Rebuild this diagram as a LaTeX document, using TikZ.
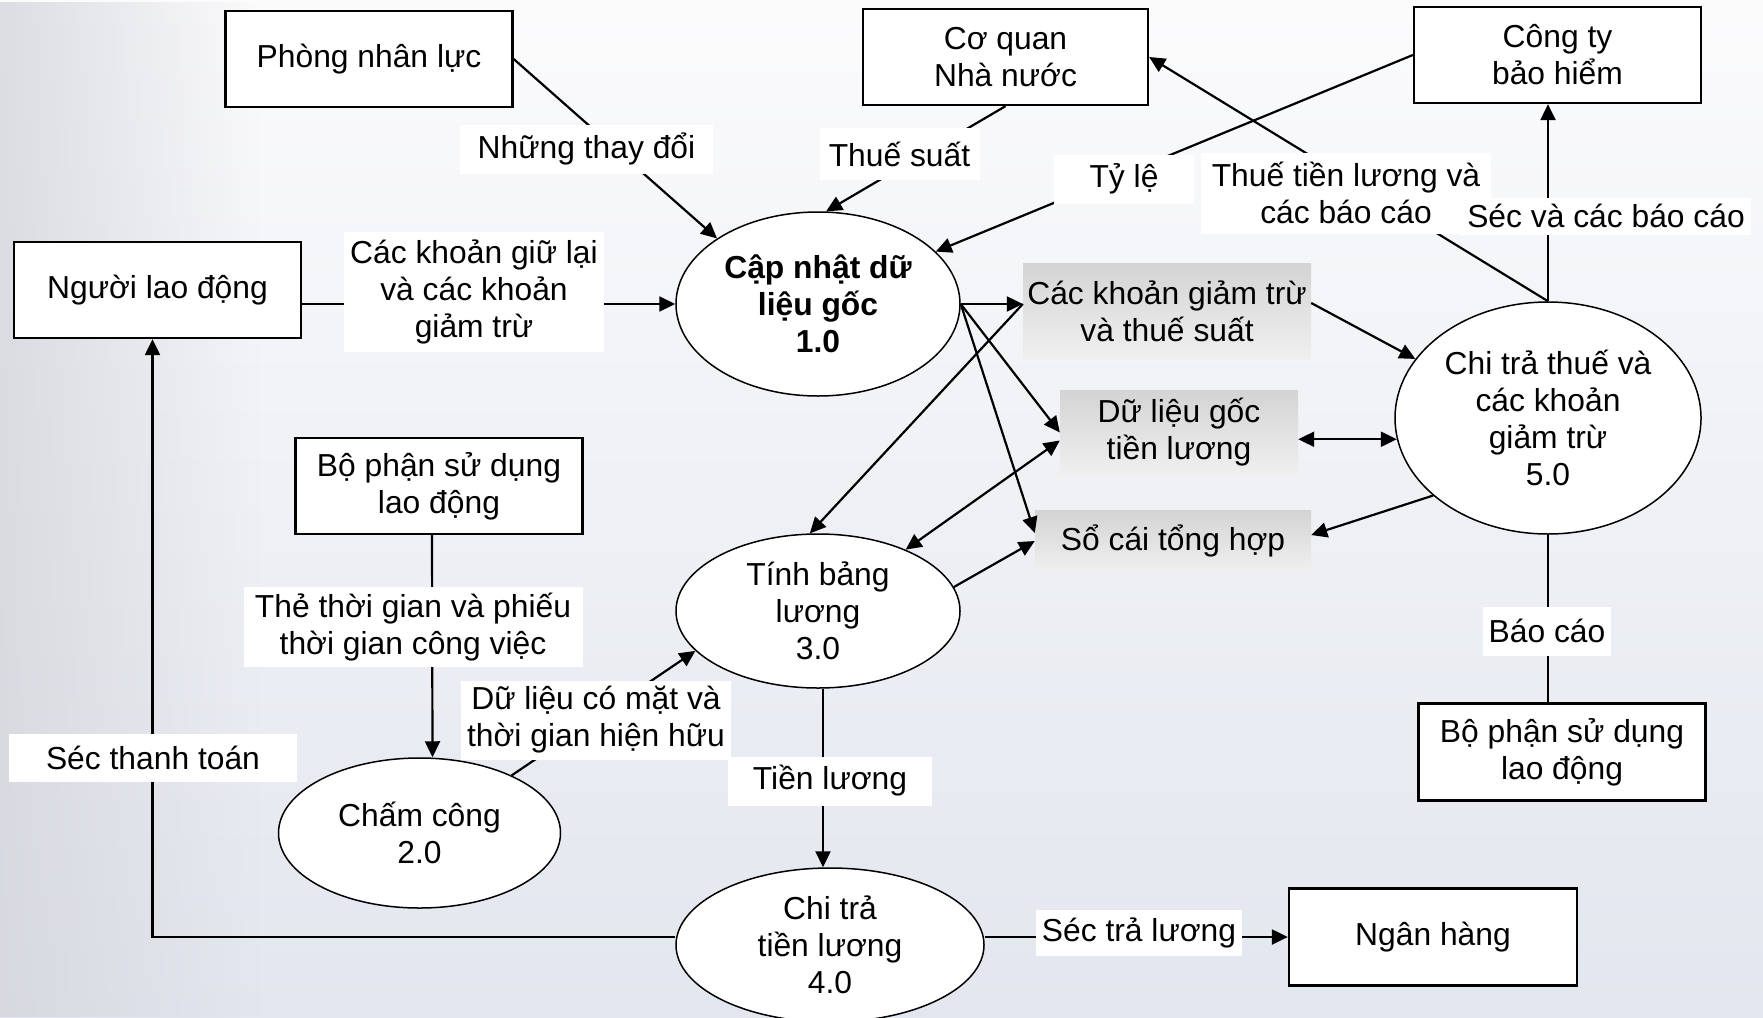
\documentclass[tikz,border=0pt]{standalone}
\usepackage{fontspec}
\setmainfont{Liberation Sans}
\usetikzlibrary{shapes.geometric,arrows.meta,fadings}
\definecolor{bgtop}{HTML}{FBFBFC}
\definecolor{bgbot}{HTML}{E2E6EE}
\definecolor{bgleft}{HTML}{D4D6DC}
\tikzfading[name=fadeR, left color=transparent!0, right color=transparent!100]
\tikzset{
  base/.style={font=\fontsize{31.8}{37}\selectfont, align=center},
  ent/.style={base, draw, line width=2.3pt, fill=white, minimum width=287pt, minimum height=96pt, inner sep=0pt},
  proc/.style={base, ellipse, draw, line width=1.5pt, fill=white, inner sep=0pt},
  store/.style={base, top color=black!17, bottom color=black!6, inner sep=0pt},
  lbl/.style={base, fill=white, inner xsep=6pt, inner ysep=2pt},
  flow/.style={line width=2.2pt, -{Triangle[length=16pt,width=15pt]}},
  bflow/.style={line width=2.2pt, {Triangle[length=16pt,width=15pt]}-{Triangle[length=16pt,width=15pt]}},
  plainline/.style={line width=2.2pt},
}
\begin{document}
\begin{tikzpicture}[x=1pt,y=-1pt]
\useasboundingbox (0,0) rectangle (1763,1017);
\clip (0,0) rectangle (1763,1017);
% background
\fill[top color=bgtop, bottom color=bgbot] (0,0) rectangle (1763,1017);
\fill[bgleft, opacity=0.8, path fading=fadeR] (0,0) rectangle (260,1017);

% external entities
\node[ent] (phong) at (369,59) {Phòng nhân lực};
\node[ent, minimum width=285pt] (coquan) at (1005.5,57) {Cơ quan\\Nhà nước};
\node[ent] (congty) at (1557.5,55) {Công ty\\bảo hiểm};
\node[ent] (nld) at (157.5,290) {Người lao động};
\node[ent] (bpl) at (439,486) {Bộ phận sử dụng\\lao động};
\node[ent, minimum height=97pt] (bpr) at (1562,752) {Bộ phận sử dụng\\lao động};
\node[ent, minimum width=288pt, minimum height=97pt] (nh) at (1433,937) {Ngân hàng};

% processes
\node[proc, font=\fontsize{31.8}{37}\selectfont\bfseries, minimum width=284pt, minimum height=184pt] (e1) at (818,304) {Cập nhật dữ\\liệu gốc\\1.0};
\node[proc, minimum width=284pt, minimum height=154pt] (e3) at (818,611) {Tính bảng\\lương\\3.0};
\node[proc, minimum width=282pt, minimum height=150pt] (e2) at (419.5,833) {Chấm công\\2.0};
\node[proc, minimum width=308pt, minimum height=154pt] (e4) at (830,945) {Chi trả\\tiền lương\\4.0};
\node[proc, minimum width=306pt, minimum height=232pt] (e5) at (1548,418) {Chi trả thuế và\\các khoản\\giảm trừ\\5.0};

% data stores
\node[store, minimum width=288pt, minimum height=96pt] (s1) at (1167,311) {Các khoản giảm trừ\\và thuế suất};
\node[store, minimum width=238pt, minimum height=85pt] (s2) at (1179,432.5) {Dữ liệu gốc\\tiền lương};
\node[store, minimum width=276pt, minimum height=61pt] (s3) at (1173,541) {Sổ cái tổng hợp};

% connectors
\draw[flow] (phong.east) -- (e1.147);
\draw[flow] (coquan.south) -- (e1.85);
\draw[flow] (congty.west) -- (e1.24);
\draw[flow] (e5.north) -- (coquan.east);
\draw[flow] (e5.north) -- (e5.north |- congty.south);
\draw[flow] (nld.east |- e1.west) -- (e1.west);
\draw[flow] (e1.east) -- (e1.east -| s1.west);
\draw[flow] (e1.east) -- (s2.west);
\draw[flow] (e1.east) -- ([yshift=8pt]s3.west);
\draw[flow] (e1.east -| s1.west) -- (e3.96);
\draw[bflow] ([yshift=-8pt]s2.west) -- (e3.35);
\draw[flow] (e3.10) -- (s3.west);
\draw[flow] ([yshift=8pt]s1.east) -- (e5.156);
\draw[bflow] (e5.188 -| s2.east) -- (e5.188);
\draw[flow] (e5.214) -- ([yshift=6pt]s3.east);
\draw[plainline] (e5.south) -- (e5.south |- bpr.north);
\draw[flow] ([xshift=-7pt]bpl.south) -- ([xshift=13pt]e2.north);
\draw[flow] (e2.32) -- (e3.198);
\draw[flow] ([xshift=5pt]e3.south) -- ([xshift=-7pt]e4.north);
\draw[flow] (e4.east |- nh.west) -- (nh.west);
\draw[flow] (e4.west |- nh.west) -| ([xshift=-5pt]nld.south);

% flow labels
\node[lbl, minimum width=253pt, minimum height=49pt] (lnhung) at (586.5,149) {Những thay đổi};
\node[lbl, minimum width=160pt, minimum height=52pt] (lthue) at (899.5,154) {Thuế suất};
\node[lbl, minimum width=140pt, minimum height=49pt] (ltyle) at (1124,179) {Tỷ lệ};
\node[lbl, minimum width=290pt, minimum height=81pt] (lthuetl) at (1346,193) {Thuế tiền lương và\\các báo cáo};
\node[lbl, minimum height=37pt] (lsec) at (1606,216) {Séc và các báo cáo};
\node[lbl, minimum width=254pt, minimum height=120pt] (lgiu) at (474,292) {Các khoản giữ lại\\và các khoản\\giảm trừ};
\node[lbl, minimum width=339pt, minimum height=80pt] (lthe) at (413,627) {Thẻ thời gian và phiếu\\thời gian công việc};
\node[lbl, minimum width=258pt, minimum height=79pt] (ldl) at (596,720) {Dữ liệu có mặt và\\thời gian hiện hữu};
\node[lbl, minimum width=288pt, minimum height=48pt] (lsect) at (153,758) {Séc thanh toán};
\node[lbl, minimum width=204pt, minimum height=49pt] (ltien) at (830,781) {Tiền lương};
\node[lbl, minimum height=49pt] (lbao) at (1547,631) {Báo cáo};
\node[lbl, minimum width=204pt, minimum height=46pt] (lsectra) at (1139,933) {Séc trả lương};
\end{tikzpicture}
\end{document}
